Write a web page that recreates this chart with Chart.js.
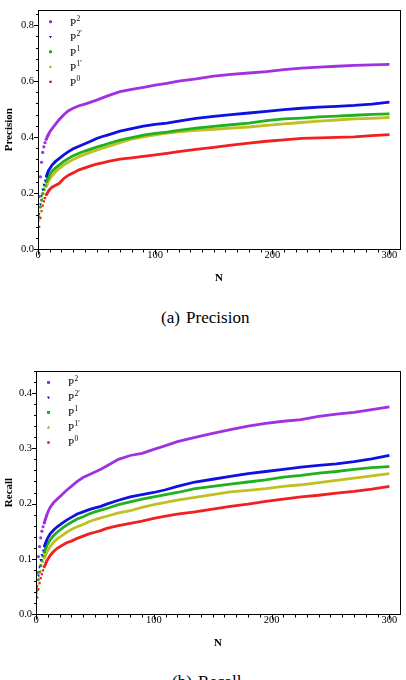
<!DOCTYPE html>
<html>
<head>
<meta charset="utf-8">
<script src="https://cdn.jsdelivr.net/npm/chart.js@4/dist/chart.umd.min.js"></script>
<style>
  body { margin: 0; width: 406px; height: 680px; background: #fff; overflow: hidden; position: relative; font-family: "Liberation Serif", "Times New Roman", serif; }
  canvas { position: absolute; left: 0; }
  .onderschrift { position: absolute; font-size: 17px; white-space: nowrap; word-spacing: 2px; color: #000; }
</style>
</head>
<body>
<canvas id="precisionGrafiek" width="406" height="290" style="top:0"></canvas>
<div class="onderschrift" style="left:161px; top:308px">(a) Precision</div>
<canvas id="recallGrafiek" width="406" height="315" style="top:340px"></canvas>
<div class="onderschrift" style="left:172px; top:672px">(b) Recall</div>
<script>
const nWaarden = [1, 2, 3, 4, 5, 6, 7, 8, 9, 10, 12, 15, 18, 22, 26, 30, 35, 40, 45, 50, 55, 60, 70, 80, 90, 100, 110, 120, 135, 150, 165, 180, 195, 210, 225, 240, 255, 270, 285, 300];

// reeksnamen: P met superscript
const reeksBasis = ["P", "P", "P", "P", "P"];
const reeksSup = ["2", "2'", "1", "1'", "0"];

// Precision
const precP2 = [0.187, 0.258, 0.310, 0.345, 0.365, 0.380, 0.392, 0.402, 0.410, 0.418, 0.430, 0.446, 0.462, 0.480, 0.494, 0.503, 0.512, 0.518, 0.525, 0.532, 0.540, 0.548, 0.562, 0.570, 0.578, 0.586, 0.592, 0.600, 0.608, 0.618, 0.624, 0.629, 0.634, 0.641, 0.646, 0.650, 0.653, 0.656, 0.658, 0.660];
const precP2a = [0.126, 0.160, 0.190, 0.212, 0.230, 0.245, 0.258, 0.270, 0.280, 0.287, 0.300, 0.313, 0.323, 0.336, 0.348, 0.358, 0.367, 0.376, 0.385, 0.395, 0.402, 0.408, 0.421, 0.430, 0.439, 0.445, 0.450, 0.457, 0.467, 0.474, 0.480, 0.486, 0.492, 0.498, 0.503, 0.507, 0.510, 0.513, 0.518, 0.525];
const precP1 = [0.115, 0.150, 0.175, 0.198, 0.213, 0.227, 0.240, 0.249, 0.258, 0.266, 0.278, 0.290, 0.300, 0.313, 0.324, 0.333, 0.342, 0.350, 0.357, 0.364, 0.370, 0.377, 0.389, 0.398, 0.407, 0.413, 0.418, 0.424, 0.432, 0.438, 0.444, 0.450, 0.459, 0.465, 0.468, 0.472, 0.475, 0.478, 0.481, 0.483];
const precP1a = [0.100, 0.135, 0.160, 0.182, 0.197, 0.211, 0.222, 0.232, 0.242, 0.250, 0.261, 0.276, 0.287, 0.300, 0.311, 0.320, 0.330, 0.338, 0.346, 0.353, 0.360, 0.367, 0.380, 0.393, 0.401, 0.408, 0.414, 0.419, 0.424, 0.428, 0.432, 0.436, 0.442, 0.447, 0.452, 0.457, 0.461, 0.465, 0.467, 0.470];
const precP0 = [0.079, 0.110, 0.135, 0.155, 0.170, 0.182, 0.193, 0.200, 0.207, 0.213, 0.221, 0.228, 0.234, 0.252, 0.264, 0.272, 0.283, 0.290, 0.297, 0.303, 0.308, 0.313, 0.321, 0.326, 0.331, 0.336, 0.342, 0.348, 0.356, 0.363, 0.371, 0.378, 0.385, 0.390, 0.395, 0.397, 0.399, 0.401, 0.405, 0.409];

// Recall
const recP2 = [0.075, 0.104, 0.122, 0.138, 0.150, 0.158, 0.165, 0.172, 0.178, 0.184, 0.193, 0.202, 0.208, 0.216, 0.224, 0.231, 0.240, 0.247, 0.252, 0.257, 0.262, 0.268, 0.280, 0.287, 0.291, 0.298, 0.305, 0.312, 0.320, 0.327, 0.334, 0.340, 0.345, 0.349, 0.352, 0.358, 0.362, 0.365, 0.370, 0.375];
const recP2a = [0.050, 0.070, 0.085, 0.098, 0.107, 0.115, 0.122, 0.128, 0.133, 0.138, 0.145, 0.152, 0.158, 0.164, 0.170, 0.175, 0.181, 0.185, 0.189, 0.192, 0.195, 0.199, 0.206, 0.212, 0.216, 0.220, 0.225, 0.231, 0.239, 0.244, 0.249, 0.254, 0.258, 0.262, 0.266, 0.269, 0.272, 0.276, 0.281, 0.287];
const recP1 = [0.043, 0.062, 0.076, 0.088, 0.097, 0.105, 0.112, 0.118, 0.123, 0.127, 0.134, 0.142, 0.148, 0.155, 0.161, 0.166, 0.172, 0.176, 0.181, 0.185, 0.188, 0.191, 0.198, 0.203, 0.208, 0.212, 0.216, 0.220, 0.227, 0.231, 0.235, 0.239, 0.243, 0.248, 0.251, 0.255, 0.258, 0.262, 0.265, 0.267];
const recP1a = [0.037, 0.055, 0.068, 0.078, 0.086, 0.094, 0.100, 0.106, 0.111, 0.115, 0.122, 0.130, 0.136, 0.142, 0.148, 0.153, 0.158, 0.162, 0.167, 0.171, 0.174, 0.177, 0.183, 0.187, 0.193, 0.198, 0.202, 0.206, 0.211, 0.216, 0.221, 0.224, 0.227, 0.231, 0.234, 0.238, 0.242, 0.246, 0.250, 0.254];
const recP0 = [0.030, 0.045, 0.056, 0.065, 0.072, 0.079, 0.085, 0.090, 0.095, 0.099, 0.106, 0.113, 0.119, 0.124, 0.129, 0.132, 0.137, 0.141, 0.145, 0.148, 0.151, 0.155, 0.160, 0.164, 0.168, 0.173, 0.177, 0.181, 0.185, 0.190, 0.195, 0.199, 0.204, 0.208, 0.212, 0.215, 0.219, 0.222, 0.226, 0.231];

// stijl per reeks
const KLEUREN = ["#a030e0", "#1010e0", "#20b020", "#c0c020", "#f02020"];
const VORMEN = ["circle", "triangle", "circle", "triangle", "rect"];
const ROTATIES = [0, 180, 0, 0, 0];

const LETTER = "'Liberation Serif', 'Times New Roman', serif";

function maakDatasets(reeksen) {
  return reeksen.map((waarden, i) => ({
    label: reeksBasis[i] + reeksSup[i],
    data: nWaarden.map((n, j) => ({ x: n, y: waarden[j] })),
    showLine: true,
    borderColor: KLEUREN[i],
    backgroundColor: KLEUREN[i],
    borderWidth: 2.8,
    pointStyle: VORMEN[i],
    rotation: ROTATIES[i],
    pointRadius: c => (c.raw && c.raw.x <= 9 ? 1.6 : 0),
    pointBorderWidth: 0,
    // eerste punten los laten, zoals in het origineel
    segment: { borderColor: c => (c.p1.parsed.x <= 7 ? "transparent" : undefined) }
  }));
}

// kader rond het plotvlak + grote/kleine streepjes naar buiten
const kaderPlugin = {
  id: "kader",
  afterDraw(chart, args, opts) {
    const { ctx, chartArea: a, scales: { x, y } } = chart;
    ctx.save();
    ctx.strokeStyle = "#000";
    ctx.lineWidth = 1;
    const l = Math.round(a.left) + 0.5, r = Math.round(a.right) + 0.5;
    const t = Math.round(a.top) + 0.5, b = Math.round(a.bottom) + 0.5;
    ctx.strokeRect(l, t, r - l, b - t);
    ctx.beginPath();
    for (let i = 0; i * opts.xStap <= x.max + 1e-9; i++) {
      const px = Math.round(x.getPixelForValue(i * opts.xStap)) + 0.5;
      const len = i % opts.xPerGroot === 0 ? 5 : 3;
      ctx.moveTo(px, b); ctx.lineTo(px, b + len);
    }
    for (let i = 0; i * opts.yStap <= y.max + 1e-9; i++) {
      const py = Math.round(y.getPixelForValue(i * opts.yStap)) + 0.5;
      const len = i % opts.yPerGroot === 0 ? 4.5 : 2.5;
      ctx.moveTo(l, py); ctx.lineTo(l - len, py);
    }
    ctx.stroke();
    ctx.restore();
  }
};

// legenda linksboven in het plotvlak, met superscript
const legendaPlugin = {
  id: "legendaBinnen",
  afterDraw(chart, args, opts) {
    const { ctx, chartArea: a } = chart;
    ctx.save();
    chart.data.datasets.forEach((ds, i) => {
      const yy = a.top + opts.eersteRij + i * opts.rijHoogte;
      Chart.helpers.drawPoint(ctx, { pointStyle: ds.pointStyle, rotation: ds.rotation, radius: 1.4, borderWidth: 0 }, a.left + 12.5, yy);
      ctx.fillStyle = ds.backgroundColor;
      ctx.fill();
      ctx.fillStyle = "#000";
      ctx.textBaseline = "middle";
      ctx.font = "11px " + LETTER;
      ctx.fillText(reeksBasis[i], a.left + 32, yy + 1);
      const w = ctx.measureText(reeksBasis[i]).width;
      ctx.font = "7.5px " + LETTER;
      ctx.fillText(reeksSup[i], a.left + 32 + w + 0.5, yy - 3);
    });
    ctx.restore();
  }
};

function maakGrafiek(id, reeksen, cfg) {
  return new Chart(document.getElementById(id), {
    type: "scatter",
    data: { datasets: maakDatasets(reeksen) },
    plugins: [kaderPlugin, legendaPlugin],
    options: {
      responsive: false,
      devicePixelRatio: 1,
      animation: false,
      events: [],
      layout: { padding: { top: cfg.boven, right: 6, left: 0, bottom: 0 } },
      scales: {
        x: {
          type: "linear", min: 0, max: 309,
          grid: { display: false, drawTicks: false, tickLength: 0 },
          border: { display: true, color: "#000", width: 1 },
          afterBuildTicks: s => { s.ticks = [0, 100, 200, 300].map(v => ({ value: v })); },
          afterFit: s => { s.height = 41; },
          ticks: { color: "#000", padding: 0, font: { family: LETTER, size: 10.5 }, callback: v => String(v) },
          title: { display: true, text: "N", color: "#000", font: { family: LETTER, size: 11, weight: "bold" }, padding: { top: 0, bottom: 5 } }
        },
        y: {
          type: "linear", min: 0, max: cfg.yMax,
          grid: { display: false, drawTicks: false, tickLength: 0 },
          border: { display: true, color: "#000", width: 1 },
          afterBuildTicks: s => { s.ticks = cfg.yTicks.map(v => ({ value: v })); },
          afterFit: s => { s.width = cfg.yBreedte; },
          ticks: { color: "#000", padding: 4, font: { family: LETTER, size: 10.5 }, callback: v => v.toFixed(1) },
          title: { display: true, text: cfg.titel, color: "#000", font: { family: LETTER, size: 11, weight: "bold" }, padding: { top: 3, bottom: 0 } }
        }
      },
      plugins: {
        legend: { display: false },
        tooltip: { enabled: false },
        kader: { xStap: 10, xPerGroot: 10, yStap: cfg.yStap, yPerGroot: 5 },
        legendaBinnen: { eersteRij: 11.5, rijHoogte: 15 }
      }
    }
  });
}

maakGrafiek("precisionGrafiek", [precP2, precP2a, precP1, precP1a, precP0],
  { titel: "Precision", yMax: 0.853, yTicks: [0, 0.2, 0.4, 0.6, 0.8], yStap: 0.04, yBreedte: 38, boven: 8 });
maakGrafiek("recallGrafiek", [recP2, recP2a, recP1, recP1a, recP0],
  { titel: "Recall", yMax: 0.44, yTicks: [0, 0.1, 0.2, 0.3, 0.4], yStap: 0.02, yBreedte: 36, boven: 31 });
</script>
</body>
</html>
